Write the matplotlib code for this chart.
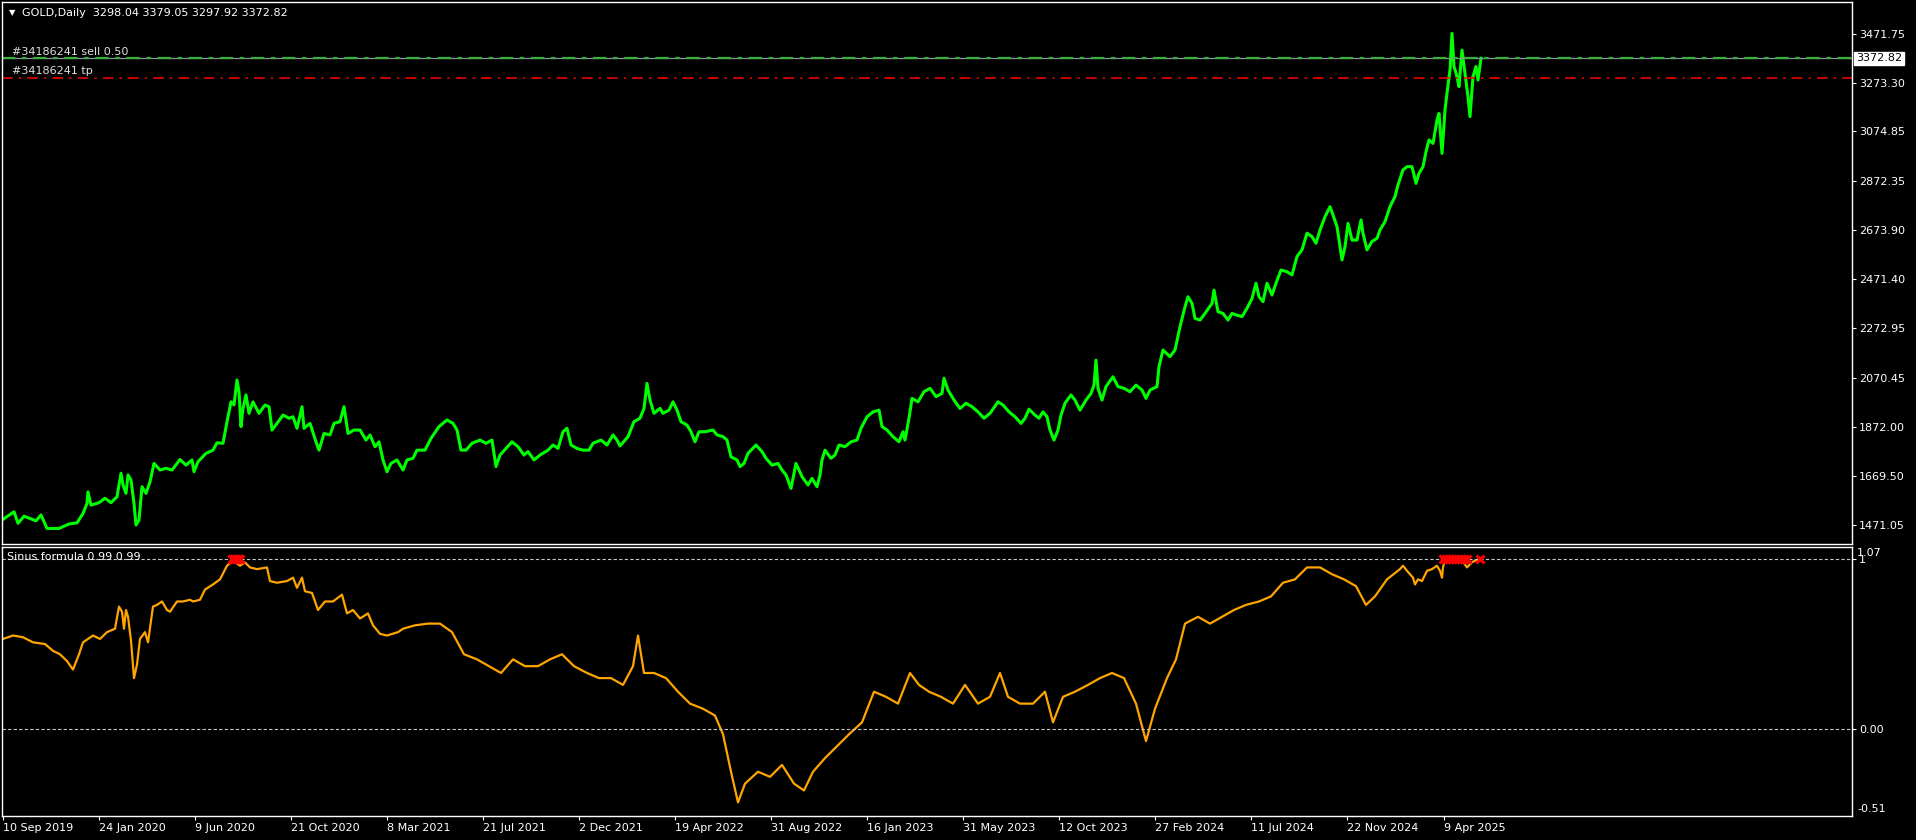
import matplotlib
matplotlib.use('Agg')
import matplotlib.pyplot as plt
from matplotlib.transforms import blended_transform_factory

# GOLD daily closes (x = bar number since 10 Sep 2019)
price_bars = [0, 11, 15, 21, 33, 38, 44, 56, 66, 74, 80, 84, 85, 88, 96, 102, 108, 114, 118, 120,
              123, 125, 128, 131, 133, 136, 139, 143, 147, 151, 157, 163, 169, 177, 183, 189, 191, 195, 203, 210,
              214, 220, 224, 228, 231, 234, 236, 238, 240, 243, 246, 250, 256, 262, 266, 269, 274, 280, 286, 290,
              294, 299, 301, 307, 313, 316, 321, 327, 331, 337, 341, 345, 351, 357, 363, 367, 372, 376, 380, 384,
              388, 394, 400, 404, 410, 414, 422, 428, 436, 444, 450, 454, 458, 463, 469, 477, 483, 489, 493, 497,
              503, 509, 515, 521, 525, 531, 537, 545, 550, 555, 560, 564, 568, 574, 580, 586, 590, 598, 604, 610,
              614, 617, 625, 631, 637, 641, 644, 647, 651, 657, 660, 666, 670, 674, 678, 684, 688, 692, 696, 702,
              710, 714, 720, 724, 728, 734, 737, 741, 745, 753, 759, 763, 769, 775, 779, 783, 788, 793, 799, 805,
              809, 814, 817, 819, 822, 828, 832, 836, 842, 848, 854, 858, 864, 870, 876, 879, 884, 890, 896, 900,
              902, 906, 909, 915, 921, 927, 933, 939, 941, 945, 951, 957, 963, 969, 975, 981, 987, 995, 1000, 1006,
              1012, 1018, 1022, 1026, 1032, 1036, 1040, 1044, 1047, 1051, 1055, 1058, 1062, 1068, 1072, 1077, 1083, 1088, 1091, 1093,
              1095, 1099, 1103, 1110, 1115, 1121, 1127, 1133, 1139, 1143, 1147, 1154, 1156, 1160, 1167, 1172, 1177, 1182, 1185, 1189,
              1192, 1197, 1202, 1209, 1211, 1215, 1220, 1225, 1229, 1234, 1239, 1244, 1249, 1253, 1256, 1260, 1264, 1269, 1273, 1278,
              1284, 1289, 1294, 1299, 1304, 1309, 1313, 1317, 1322, 1327, 1330, 1334, 1337, 1339, 1342, 1345, 1349, 1354, 1358, 1360,
              1364, 1369, 1374, 1377, 1382, 1387, 1392, 1395, 1400, 1404, 1409, 1413, 1416, 1420, 1423, 1426, 1430, 1434, 1436, 1439,
              1442, 1444, 1447, 1449, 1451, 1454, 1456, 1459, 1462, 1465, 1467, 1470, 1473, 1475, 1478]
price_vals = [1494, 1525, 1478, 1507, 1488, 1512, 1457, 1457, 1475, 1480, 1518, 1559, 1606, 1552, 1562, 1580, 1562, 1586, 1682, 1634,
              1600, 1675, 1654, 1559, 1471, 1491, 1627, 1600, 1647, 1722, 1695, 1702, 1695, 1738, 1715, 1736, 1688, 1729, 1763, 1776,
              1806, 1804, 1892, 1973, 1960, 2062, 2014, 1872, 1946, 2001, 1926, 1973, 1926, 1960, 1953, 1858, 1885, 1919, 1906, 1912,
              1865, 1953, 1865, 1885, 1810, 1776, 1844, 1838, 1885, 1892, 1953, 1844, 1858, 1858, 1817, 1838, 1790, 1810, 1736, 1688,
              1722, 1736, 1695, 1736, 1743, 1776, 1776, 1824, 1872, 1899, 1885, 1858, 1776, 1776, 1804, 1817, 1804, 1817, 1709, 1756,
              1783, 1810, 1790, 1756, 1770, 1736, 1756, 1776, 1797, 1783, 1851, 1865, 1797, 1783, 1776, 1776, 1804, 1817, 1797, 1838,
              1817, 1793, 1831, 1892, 1906, 1946, 2048, 1980, 1926, 1946, 1926, 1939, 1973, 1939, 1892, 1878, 1851, 1810, 1851, 1851,
              1858, 1838, 1831, 1817, 1749, 1736, 1709, 1722, 1763, 1797, 1770, 1743, 1715, 1722, 1695, 1675, 1620, 1722, 1668, 1634,
              1661, 1627, 1675, 1736, 1776, 1743, 1756, 1797, 1790, 1810, 1817, 1865, 1912, 1932, 1939, 1872, 1858, 1831, 1810, 1851,
              1817, 1906, 1987, 1973, 2014, 2028, 1994, 2007, 2069, 2021, 1980, 1946, 1967, 1953, 1932, 1906, 1926, 1973, 1960, 1932,
              1912, 1885, 1906, 1943, 1919, 1906, 1932, 1912, 1858, 1817, 1858, 1919, 1967, 2001, 1980, 1939, 1980, 2007, 2041, 2143,
              2028, 1980, 2035, 2075, 2035, 2028, 2014, 2041, 2021, 1987, 2021, 2035, 2116, 2184, 2157, 2184, 2279, 2360, 2401, 2374,
              2313, 2306, 2333, 2374, 2428, 2340, 2333, 2306, 2333, 2326, 2320, 2354, 2394, 2456, 2401, 2381, 2456, 2408, 2456, 2510,
              2503, 2490, 2565, 2592, 2660, 2646, 2619, 2673, 2727, 2768, 2734, 2687, 2605, 2551, 2605, 2700, 2632, 2632, 2714, 2660,
              2592, 2626, 2639, 2673, 2707, 2768, 2809, 2857, 2918, 2931, 2931, 2863, 2904, 2931, 2992, 3040, 3026, 3121, 3148, 2985,
              3162, 3230, 3325, 3474, 3339, 3298, 3257, 3406, 3312, 3216, 3135, 3298, 3339, 3284, 3372.82]

# "Sinus formula" indicator values
osc_bars = [0, 10, 20, 30, 42, 50, 57, 64, 70, 76, 80, 90, 97, 104, 112, 116, 119, 121, 123, 125,
            128, 131, 134, 137, 142, 145, 150, 154, 159, 164, 167, 174, 180, 187, 190, 197, 202, 210, 217, 224,
            230, 237, 242, 247, 254, 264, 267, 274, 284, 290, 294, 299, 302, 309, 312, 315, 322, 330, 339, 344,
            350, 357, 365, 370, 377, 384, 395, 400, 412, 425, 437, 449, 461, 474, 486, 498, 510, 522, 535, 547,
            559, 571, 584, 596, 608, 620, 630, 635, 641, 651, 663, 675, 687, 700, 712, 720, 728, 735, 742, 755,
            767, 779, 791, 801, 810, 822, 834, 846, 859, 871, 883, 895, 907, 916, 926, 938, 950, 962, 975, 987,
            997, 1005, 1017, 1030, 1042, 1050, 1060, 1072, 1085, 1097, 1109, 1121, 1133, 1143, 1152, 1164, 1173, 1182, 1195, 1207,
            1219, 1231, 1243, 1256, 1268, 1280, 1292, 1304, 1317, 1329, 1341, 1353, 1363, 1372, 1384, 1397, 1400, 1404, 1410, 1412,
            1415, 1419, 1424, 1429, 1434, 1437, 1439, 1440, 1442, 1450, 1458, 1464, 1469, 1472, 1478]
osc_vals = [0.53, 0.55, 0.54, 0.51, 0.50, 0.46, 0.44, 0.40, 0.35, 0.44, 0.51, 0.55, 0.53, 0.57, 0.59, 0.72, 0.69, 0.59, 0.70, 0.66,
            0.52, 0.30, 0.38, 0.53, 0.57, 0.51, 0.72, 0.73, 0.75, 0.70, 0.69, 0.75, 0.75, 0.76, 0.75, 0.76, 0.82, 0.85, 0.88, 0.96,
            0.99, 0.96, 0.98, 0.95, 0.94, 0.95, 0.87, 0.86, 0.87, 0.89, 0.83, 0.89, 0.81, 0.80, 0.75, 0.70, 0.75, 0.75, 0.79, 0.68,
            0.70, 0.65, 0.68, 0.61, 0.56, 0.55, 0.57, 0.59, 0.61, 0.62, 0.62, 0.57, 0.44, 0.41, 0.37, 0.33, 0.41, 0.37, 0.37, 0.41,
            0.44, 0.37, 0.33, 0.30, 0.30, 0.26, 0.37, 0.55, 0.33, 0.33, 0.30, 0.22, 0.15, 0.12, 0.08, -0.03, -0.25, -0.43, -0.32, -0.25,
            -0.28, -0.21, -0.32, -0.36, -0.25, -0.17, -0.10, -0.03, 0.04, 0.22, 0.19, 0.15, 0.33, 0.26, 0.22, 0.19, 0.15, 0.26, 0.15, 0.19,
            0.33, 0.19, 0.15, 0.15, 0.22, 0.04, 0.19, 0.22, 0.26, 0.30, 0.33, 0.30, 0.15, -0.07, 0.12, 0.30, 0.41, 0.62, 0.66, 0.62,
            0.66, 0.70, 0.73, 0.75, 0.78, 0.86, 0.88, 0.95, 0.95, 0.91, 0.88, 0.84, 0.73, 0.78, 0.88, 0.94, 0.96, 0.93, 0.89, 0.85,
            0.88, 0.87, 0.93, 0.94, 0.96, 0.93, 0.89, 0.95, 1.00, 1.01, 1.00, 0.95, 0.98, 0.99, 1.00]

# red signal crosses
signal_bars = [229, 231, 233, 235, 237, 1440, 1443, 1446, 1449, 1452, 1455, 1458, 1461, 1464, 1477]
signal_vals = [1.0] * len(signal_bars)

date_ticks = [0, 96, 192, 288, 384, 480, 576, 672, 768, 864, 960, 1056, 1152, 1248, 1344, 1441]
date_labels = ['10 Sep 2019', '24 Jan 2020', '9 Jun 2020', '21 Oct 2020', '8 Mar 2021', '21 Jul 2021',
               '2 Dec 2021', '19 Apr 2022', '31 Aug 2022', '16 Jan 2023', '31 May 2023', '12 Oct 2023',
               '27 Feb 2024', '11 Jul 2024', '22 Nov 2024', '9 Apr 2025']
price_ticks = [3471.75, 3273.30, 3074.85, 2872.35, 2673.90, 2471.40, 2272.95, 2070.45, 1872.00, 1669.50, 1471.05]

sell_price = 3372.82
tp_price = 3291.0
ohlc = [3298.04, 3379.05, 3297.92, 3372.82]

plt.rcParams['font.family'] = 'DejaVu Sans'
plt.rcParams['font.size'] = 8

W, H = 1916, 840
fig = plt.figure(figsize=(W / 100, H / 100), dpi=100, facecolor='black')
ax = fig.add_axes([2 / W, (H - 544) / H, 1850 / W, 542 / H], facecolor='black')
ax2 = fig.add_axes([2 / W, (H - 816) / H, 1850 / W, 269 / H], facecolor='black')

for a in (ax, ax2):
    for s in a.spines.values():
        s.set_color('white')
        s.set_linewidth(1)
    a.set_xlim(-1, 1849)
    a.yaxis.tick_right()
    a.tick_params(axis='y', colors='white', labelcolor='white', length=3, pad=2, labelsize=8)

# main price window
ax.plot(price_bars, price_vals, color='#00ff00', lw=2.2)
ax.axhline(sell_price, color='#8a96a4', lw=0.9)
ax.axhline(sell_price, color='#3cb03c', lw=1.6, ls=(0, (6, 3, 2, 3)))
ax.axhline(tp_price, color='#ff0000', lw=1.1, ls=(0, (7, 4, 1.5, 4)))
ax.set_ylim(1393.6, 3602)
ax.set_yticks(price_ticks)
ax.set_yticklabels(['%.2f' % p for p in price_ticks])
ax.set_xticks([])

trans = blended_transform_factory(ax.transAxes, ax.transData)
ax.text(1 + 4 / 1850, sell_price, '%.2f' % sell_price, transform=trans, color='black', va='center',
        ha='left', fontsize=8, clip_on=False,
        bbox=dict(facecolor='white', edgecolor='white', boxstyle='square,pad=0.15'))

ax.text(7 / 1850, 1 - 11 / 542, '\u25bc', transform=ax.transAxes, color='white', fontsize=6, va='center')
ax.text(20 / 1850, 1 - 11 / 542, 'GOLD,Daily  ' + ' '.join('%.2f' % v for v in ohlc),
        transform=ax.transAxes, color='white', va='center')
ax.text(10 / 1850, 1 - 50 / 542, '#34186241 sell 0.50', transform=ax.transAxes, color='#e0e0e0', va='center')
ax.text(10 / 1850, 1 - 69 / 542, '#34186241 tp', transform=ax.transAxes, color='#e0e0e0', va='center')

# indicator window
ax2.plot(osc_bars, osc_vals, color='#ffa500', lw=1.6)
ax2.axhline(1.0, color='#c8c8c8', lw=0.8, ls=(0, (3, 2)))
ax2.axhline(0.0, color='#c8c8c8', lw=0.8, ls=(0, (3, 2)))
ax2.plot(signal_bars, signal_vals, ls='none', marker='x', color='#ff0000', markersize=6, mew=2.2)
ax2.set_ylim(-0.51, 1.07)
ax2.set_yticks([1.0, 0.0])
ax2.set_yticklabels(['1', '0.00'])
ax2.text(5 / 1850, 1 - 10 / 269, 'Sinus formula 0.99 0.99', transform=ax2.transAxes, color='white', va='center')
ax2.text(1 + 5 / 1850, 1 - 6 / 269, '1.07', transform=ax2.transAxes, color='white', va='center')
ax2.text(1 + 5 / 1850, 7 / 269, '-0.51', transform=ax2.transAxes, color='white', va='center')

ax2.set_xticks(date_ticks)
ax2.set_xticklabels(date_labels, ha='left')
ax2.tick_params(axis='x', colors='white', labelcolor='white', length=3, pad=2, labelsize=8)

fig.savefig('out.png', dpi=100, facecolor='black')
